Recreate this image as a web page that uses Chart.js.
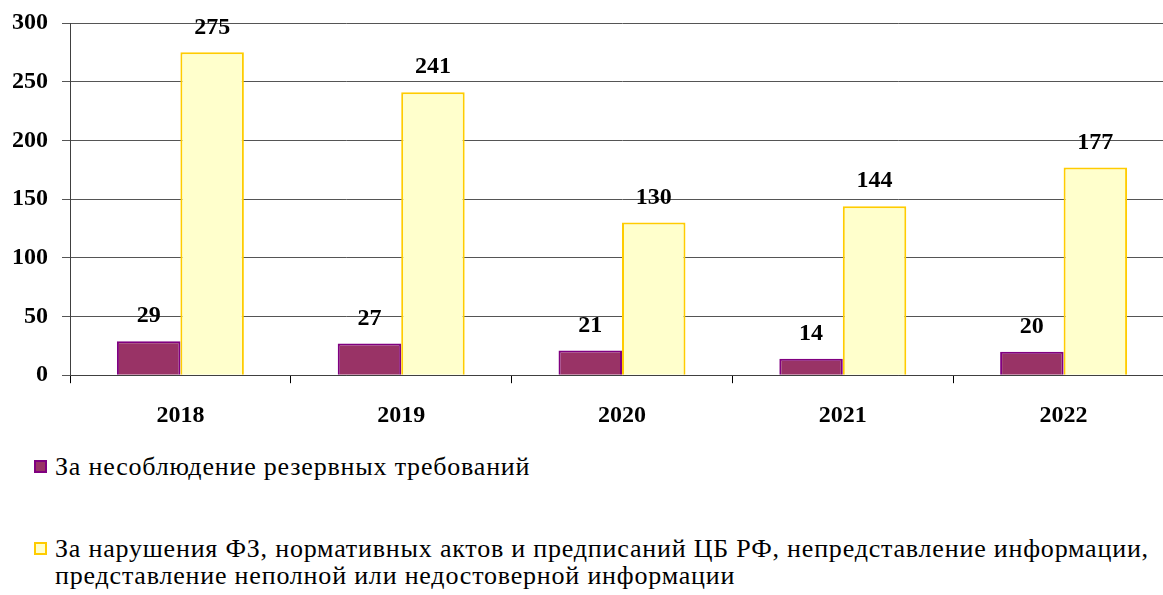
<!DOCTYPE html>
<html>
<head>
<meta charset="utf-8">
<script src="https://cdn.jsdelivr.net/npm/chart.js@4.4.0/dist/chart.umd.min.js"></script>
<style>
    body { margin: 0; background: #fff; width: 1163px; height: 595px; overflow: hidden; position: relative; }
    #wrap { position: absolute; left: 0; top: 0; width: 1163px; height: 448px; overflow: hidden; }
    #inner { width: 1174px; height: 448px; }
    #legend { position: absolute; left: 34px; top: 453px; font-family: 'Liberation Serif', serif; font-size: 26px; line-height: 27px; letter-spacing: 0.8px; color: #000; }
    .item { display: flex; align-items: flex-start; margin-bottom: 55px; }
    .box { width: 9px; height: 9px; border: 2px solid; margin-top: 7px; margin-right: 8px; flex: none; }
    .txt { width: 1110px; }
</style>
</head>
<body>
<div id="wrap"><div id="inner"><canvas id="shtrafyChart"></canvas></div></div>
<div id="legend"></div>
<script>
// Данные
const anos = ['2018', '2019', '2020', '2021', '2022'];
const rezervnye = [29, 27, 21, 14, 20];
const narusheniya = [275, 241, 130, 144, 177];
const nombresSeries = [
    'За несоблюдение резервных требований',
    'За нарушения ФЗ, нормативных актов и предписаний ЦБ РФ, непредставление информации, представление неполной или недостоверной информации'
];
const ticksY = [0, 50, 100, 150, 200, 250, 300];

const fuente = "'Liberation Serif', serif";

// Подписи значений над столбцами
const etiquetasPlugin = {
    id: 'etiquetas',
    afterDatasetsDraw(chart) {
        const ctx = chart.ctx;
        ctx.save();
        ctx.font = 'bold 24px ' + fuente;
        ctx.fillStyle = '#000';
        ctx.textAlign = 'center';
        ctx.textBaseline = 'middle';
        chart.data.datasets.forEach((ds, i) => {
            chart.getDatasetMeta(i).data.forEach((bar, j) => {
                ctx.fillText(ds.data[j], bar.x, bar.y - 25);
            });
        });
        ctx.restore();
    }
};

const ctx = document.getElementById('shtrafyChart').getContext('2d');
const shtrafyChart = new Chart(ctx, {
    type: 'bar',
    data: {
        labels: anos,
        datasets: [{
            label: nombresSeries[0],
            data: rezervnye,
            backgroundColor: '#993366',
            borderColor: '#800080',
            borderWidth: 2
        }, {
            label: nombresSeries[1],
            data: narusheniya,
            backgroundColor: '#FFFFCC',
            borderColor: '#FFCC00',
            borderWidth: 2
        }]
    },
    options: {
        responsive: true,
        maintainAspectRatio: false,
        animation: false,
        layout: { padding: { top: 23, right: 0, bottom: 0, left: 0 } },
        datasets: { bar: { categoryPercentage: 0.575, barPercentage: 1 } },
        plugins: {
            legend: { display: false },
            tooltip: { enabled: false }
        },
        scales: {
            x: {
                grid: { drawOnChartArea: false, drawTicks: true, tickLength: 8, color: '#000', offset: true },
                border: { color: '#404040', width: 1 },
                ticks: { color: '#000', font: { family: fuente, size: 24, weight: 'bold' }, padding: 18 }
            },
            y: {
                min: 0,
                max: 300,
                afterFit(scale) {
                    scale.width = 70;
                    scale.paddingTop = 0;
                    scale.paddingBottom = 0;
                },
                afterBuildTicks(scale) { scale.ticks = ticksY.map(v => ({ value: v })); },
                grid: { color: '#555', tickLength: 8 },
                border: { color: '#404040', width: 1 },
                ticks: { color: '#000', font: { family: fuente, size: 24, weight: 'bold' }, padding: 14 }
            }
        }
    },
    plugins: [etiquetasPlugin]
});

// Легенда
const legend = document.getElementById('legend');
shtrafyChart.data.datasets.forEach(ds => {
    const item = document.createElement('div');
    item.className = 'item';
    const box = document.createElement('span');
    box.className = 'box';
    box.style.background = ds.backgroundColor;
    box.style.borderColor = ds.borderColor;
    const txt = document.createElement('span');
    txt.className = 'txt';
    txt.textContent = ds.label;
    item.appendChild(box);
    item.appendChild(txt);
    legend.appendChild(item);
});
</script>
</body>
</html>
